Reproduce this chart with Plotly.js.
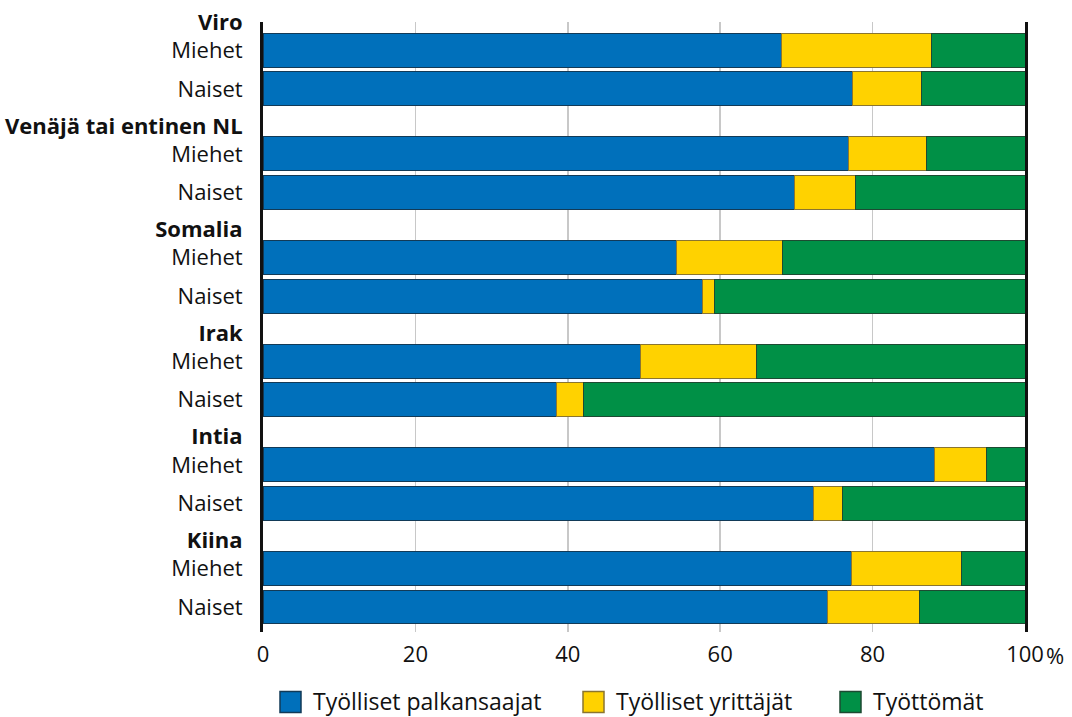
<!DOCTYPE html>
<html>
<head>
<meta charset="utf-8">
<script src="https://cdn.plot.ly/plotly-3.0.1.min.js"></script>
<style>html,body{margin:0;padding:0;background:#fff}#chart{width:1072px;height:717px}</style>
</head>
<body>
<div id="chart"></div>
<script>
const groups = ['Viro', 'Venäjä tai entinen NL', 'Somalia', 'Irak', 'Intia', 'Kiina'];
const genders = ['Miehet', 'Naiset'];
const seriesNames = ['Työlliset palkansaajat', 'Työlliset yrittäjät', 'Työttömät'];
// order: for each group, Miehet then Naiset
const palkansaajat = [68.1, 77.4, 76.9, 69.8, 54.2, 57.7, 49.5, 38.5, 88.1, 72.3, 77.2, 74.1];
const yrittajat    = [19.6,  9.0, 10.2,  8.0, 14.0,  1.5, 15.3,  3.5,  6.9,  3.7, 14.5, 12.0];
const tyottomat    = [12.3, 13.6, 12.9, 22.2, 31.8, 40.8, 35.2, 58.0,  5.0, 24.0,  8.3, 13.9];
const xTicks = [0, 20, 40, 60, 80, 100];

const colors = ['#0070bb', '#ffd200', '#009046'];
const lineColors = ['#123a57', '#8a7530', '#1d4a32'];

// layout of rows (in bar-pitch units)
const GROUP_STEP = 2.69, HEADER_OFFSET = -0.73;
const yBars = [], tickVals = [], tickText = [];
groups.forEach((g, gi) => {
  tickVals.push(gi * GROUP_STEP + HEADER_OFFSET);
  tickText.push('<b>' + g + '</b>');
  genders.forEach((s, si) => {
    const y = gi * GROUP_STEP + si;
    yBars.push(y);
    tickVals.push(y);
    tickText.push(s);
  });
});

const series = [palkansaajat, yrittajat, tyottomat];
const traces = series.map((vals, i) => ({
  type: 'bar',
  orientation: 'h',
  name: seriesNames[i],
  x: vals,
  y: yBars,
  width: 0.88,
  marker: {color: colors[i], line: {color: lineColors[i], width: 1}},
  hoverinfo: 'x+name',
  showlegend: false
}));

// custom legend (larger swatches than Plotly's native legend icons)
const PLOT_L = 263, PLOT_W = 762, PLOT_B = 632, PLOT_H = 610;
const legendPx = [280, 583, 840];   // swatch left edges in px
const legendY = 702;                 // legend centre in px
const toPX = px => (px - PLOT_L) / PLOT_W;
const toPY = py => (PLOT_B - py) / PLOT_H;
const shapes = [], annotations = [];
seriesNames.forEach((n, i) => {
  shapes.push({type: 'rect', xref: 'paper', yref: 'paper',
    x0: toPX(legendPx[i]), x1: toPX(legendPx[i] + 21),
    y0: toPY(legendY + 10.5), y1: toPY(legendY - 10.5),
    fillcolor: colors[i], line: {color: lineColors[i], width: 1.5}});
  annotations.push({xref: 'paper', yref: 'paper', x: toPX(legendPx[i] + 31), y: toPY(legendY - 1),
    xanchor: 'left', yanchor: 'middle', text: n, showarrow: false,
    font: {size: 23, color: '#111'}});
});
annotations.push({xref: 'x', yref: 'paper', x: 100, y: 0, xanchor: 'left', yanchor: 'top',
  xshift: 19, yshift: -6, text: '%', showarrow: false, font: {size: 22, color: '#111'}});

const font = '"Open Sans", Roboto, sans-serif';
const layout = {
  width: 1072, height: 717,
  margin: {l: 263, r: 47, t: 22, b: 85, autoexpand: false},
  barmode: 'stack',
  paper_bgcolor: '#fff', plot_bgcolor: '#fff',
  font: {family: font, size: 22, color: '#111'},
  showlegend: false,
  xaxis: {range: [0, 100], tickvals: xTicks, ticktext: xTicks.map(String),
          showgrid: true, gridcolor: '#c8c8c8', gridwidth: 1.5, zeroline: false,
          showline: false, ticks: 'outside', ticklen: 3, tickcolor: 'rgba(0,0,0,0)',
          tickfont: {size: 22}, fixedrange: true},
  yaxis: {range: [(groups.length - 1) * GROUP_STEP + 1.65, -0.735], tickmode: 'array',
          tickvals: tickVals, ticktext: tickText, showgrid: false, zeroline: false,
          showline: true, mirror: true, linecolor: '#111', linewidth: 3,
          ticks: 'outside', ticklen: 13, tickcolor: 'rgba(0,0,0,0)',
          tickfont: {size: 22}, fixedrange: true},
  shapes: shapes,
  annotations: annotations
};

Plotly.newPlot('chart', traces, layout, {displayModeBar: false, staticPlot: true});
</script>
</body>
</html>
